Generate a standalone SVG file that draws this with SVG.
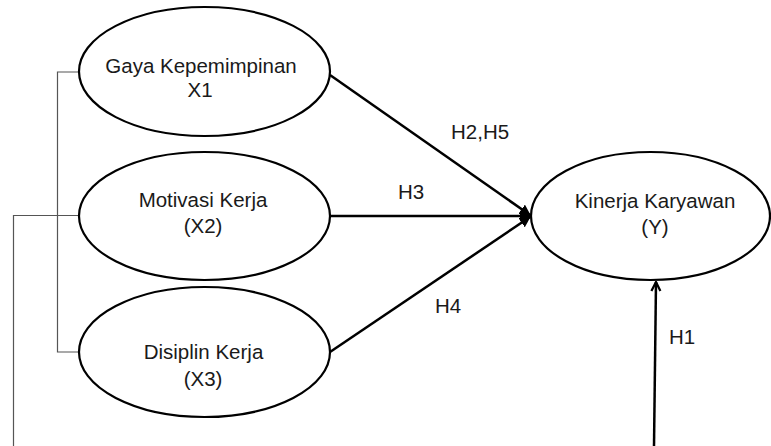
<svg xmlns="http://www.w3.org/2000/svg" width="771" height="446" viewBox="0 0 771 446">
<style>
.node ellipse{fill:#fff;stroke:#000;stroke-width:2.2}
text{font-family:"Liberation Sans",Arial,sans-serif;font-size:20.5px;fill:#1a1a1a}
.c{text-anchor:middle}
.thick{stroke:#000;stroke-width:2.5;fill:none}
.thin{stroke:#555;stroke-width:1.2;fill:none}
</style>
<defs>
<marker id="fa" viewBox="0 0 10 10" refX="9" refY="5" markerWidth="4.5" markerHeight="4.5" orient="auto" markerUnits="strokeWidth">
<path d="M0,0 L10,5 L0,10 Z" fill="#000"/>
</marker>
<marker id="oa" viewBox="0 0 10 10" refX="9" refY="5" markerWidth="4.5" markerHeight="4.5" orient="auto" markerUnits="strokeWidth">
<path d="M1,1 L9,5 L1,9" fill="none" stroke="#000" stroke-width="2"/>
</marker>
</defs>
<g id="connectors">
<polyline class="thin" points="79,72 57.5,72 57.5,352 79,352"/>
<polyline class="thin" points="79,215.5 13.5,215.5 13.5,446"/>
<line class="thick" x1="330" y1="75" x2="530" y2="215" marker-end="url(#fa)"/>
<line class="thick" x1="330" y1="216" x2="530" y2="216" marker-end="url(#fa)"/>
<line class="thick" x1="330" y1="352" x2="530" y2="217" marker-end="url(#fa)"/>
<line class="thick" x1="654" y1="446" x2="656" y2="282" marker-end="url(#oa)"/>
<text x="451" y="139">H2,H5</text>
<text x="398" y="199">H3</text>
<text x="435" y="313">H4</text>
<text x="669" y="344">H1</text>
</g>
<g id="gaya" class="node">
<ellipse cx="204.5" cy="71.5" rx="125.5" ry="64.5"/>
<text class="c" x="201" y="73">Gaya Kepemimpinan</text>
<text class="c" x="200" y="97">X1</text>
</g>
<g id="motivasi" class="node">
<ellipse cx="204.5" cy="216" rx="125.5" ry="64"/>
<text class="c" x="203" y="207">Motivasi Kerja</text>
<text class="c" x="203" y="233">(X2)</text>
</g>
<g id="disiplin" class="node">
<ellipse cx="204.5" cy="352" rx="125.5" ry="65"/>
<text class="c" x="203.5" y="359">Disiplin Kerja</text>
<text class="c" x="203" y="386">(X3)</text>
</g>
<g id="kinerja" class="node">
<ellipse cx="650.5" cy="216" rx="119.5" ry="64"/>
<text class="c" x="655" y="208">Kinerja Karyawan</text>
<text class="c" x="655" y="234">(Y)</text>
</g>
</svg>
